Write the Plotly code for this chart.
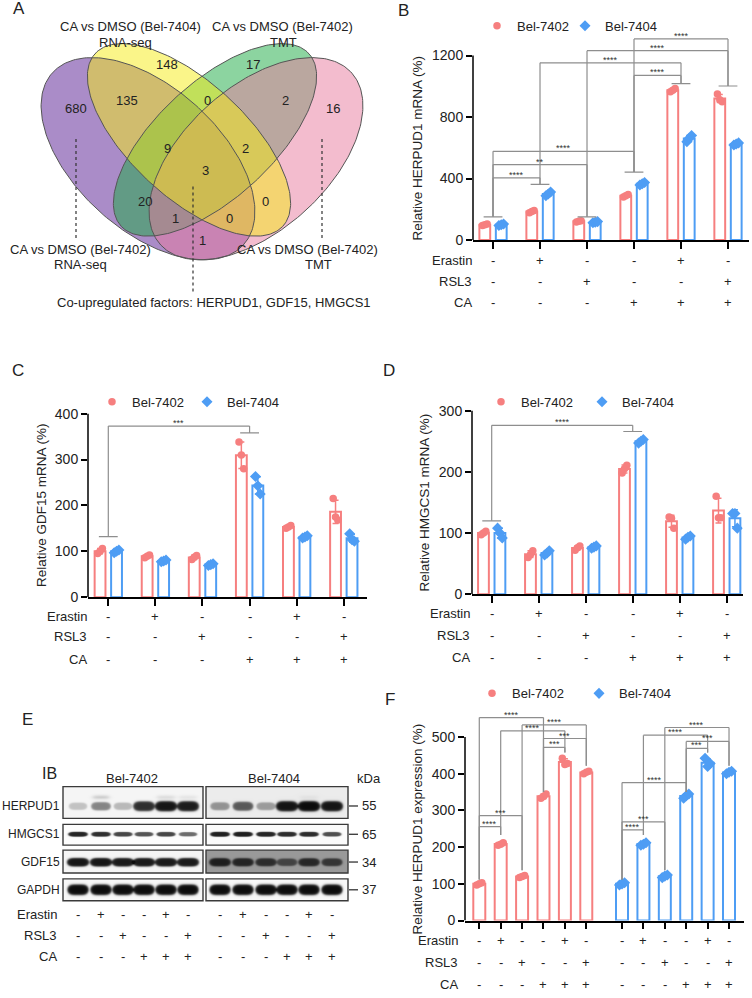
import numpy as np
import plotly.graph_objects as go

W, H = 752, 998
FONT = 'Liberation Sans, Arial, Helvetica, sans-serif'
RED = '#F67F7F'
BLUE = '#4E9DF4'
BRK = '#8E8E8E'
TXT = '#222222'

# ======================= DATA =======================
series = ['Bel-7402', 'Bel-7404']
treatments = ['Erastin', 'RSL3', 'CA']
erastin = ['-', '+', '-', '-', '+', '-']
rsl3 = ['-', '-', '+', '-', '-', '+']
ca = ['-', '-', '-', '+', '+', '+']

# Panel A (Venn) region counts  (1=7402 RNA-seq, 2=7404 RNA-seq, 3=7402 TMT, 4=7402 TMT)
venn_titles = ['CA vs DMSO (Bel-7402)', 'CA vs DMSO (Bel-7404)',
               'CA vs DMSO (Bel-7402)', 'CA vs DMSO (Bel-7402)']
venn_subtitles = ['RNA-seq', 'RNA-seq', 'TMT', 'TMT']
venn_regions = ['2', '3', '12', '23', '34', '1', '4', '123', '234', '1234', '13', '24', '134', '124', '14']
venn_counts = [148, 17, 135, 0, 2, 680, 16, 9, 2, 3, 20, 0, 1, 0, 1]
venn_note = 'Co-upregulated factors: HERPUD1, GDF15, HMGCS1'

# Panel B: HERPUD1 mRNA (%)
herpud1_mrna_7402 = [[95, 100, 105], [178, 185, 192], [118, 122, 126],
                     [280, 288, 296], [965, 975, 985], [950, 912, 900]]
herpud1_mrna_7404 = [[95, 100, 104], [288, 300, 312], [112, 116, 120],
                     [358, 366, 374], [640, 662, 680], [618, 625, 632]]
herpud1_mrna_ticks = [0, 400, 800, 1200]
herpud1_mrna_caps = [151, 362, 151, 442, 1017, 1002]
herpud1_mrna_sig = [(0, 1, 405, '****'), (0, 2, 491, '**'), (0, 3, 577, '****'),
                    (3, 4, 1071, '****'), (1, 4, 1153, '****'), (2, 5, 1232, '****'),
                    (3, 5, 1308, '****')]

# Panel C: GDF15 mRNA (%)
gdf15_mrna_7402 = [[95, 100, 106], [86, 89, 92], [82, 87, 91],
                   [338, 310, 280], [150, 153, 156], [215, 175, 168]]
gdf15_mrna_7404 = [[97, 100, 103], [77, 79, 81], [69, 71, 73],
                   [263, 243, 225], [129, 131, 134], [138, 125, 122]]
gdf15_mrna_ticks = [0, 100, 200, 300, 400]
gdf15_mrna_caps = {0: 132, 3: 358}
gdf15_mrna_sig = [(0, 3, 373, '***')]

# Panel D: HMGCS1 mRNA (%)
hmgcs1_mrna_7402 = [[97, 100, 103], [60, 65, 71], [72, 76, 79],
                    [198, 205, 211], [126, 124, 108], [160, 125, 125]]
hmgcs1_mrna_7404 = [[108, 100, 92], [64, 67, 71], [75, 77, 79],
                    [247, 250, 253], [90, 93, 95], [132, 132, 108]]
hmgcs1_mrna_ticks = [0, 100, 200, 300]
hmgcs1_mrna_caps = {0: 120, 3: 266}
hmgcs1_mrna_sig = [(0, 3, 276, '****')]

# Panel E: western blot band intensities (0-1)
blot_proteins = ['HERPUD1', 'HMGCS1', 'GDF15', 'GAPDH']
blot_kda = ['55', '65', '34', '37']
blot_7402 = [[0.22, 0.48, 0.26, 0.86, 0.96, 0.93],
             [0.90, 0.86, 0.76, 0.70, 0.76, 0.60],
             [0.96, 0.96, 0.94, 0.94, 0.94, 0.94],
             [1.00, 1.00, 1.00, 1.00, 1.00, 1.00]]
blot_7404 = [[0.40, 0.66, 0.36, 0.97, 1.00, 0.96],
             [0.92, 0.93, 0.90, 0.87, 0.87, 0.72],
             [0.88, 0.84, 0.78, 0.62, 0.82, 0.72],
             [1.00, 1.00, 1.00, 1.00, 1.00, 1.00]]
blot_bg_7402 = [0.04, 0.01, 0.04, 0.03]
blot_bg_7404 = [0.08, 0.02, 0.42, 0.03]
herpud1_upper_7402 = [0.0, 0.20, 0.0, 0.0, 0.12, 0.08]
herpud1_upper_7404 = [0.0, 0.0, 0.0, 0.0, 0.05, 0.0]

# Panel F: HERPUD1 protein expression (%)
herpud1_prot_7402 = [[97, 100, 103], [205, 208, 212], [117, 120, 123],
                     [333, 338, 345], [442, 425, 428], [400, 404, 407]]
herpud1_prot_7404 = [[97, 100, 103], [205, 208, 212], [117, 121, 124],
                     [333, 340, 345], [442, 420, 428], [400, 404, 407]]
herpud1_prot_ticks = [0, 100, 200, 300, 400, 500]
herpud1_prot_legs = [112, 233, 137, 350, 458, 422]
herpud1_prot_sig_7402 = [(0, 1, 256, '****'), (0, 2, 286, '***'), (0, 3, 553, '****'),
                         (2, 5, 533, '****'), (1, 4, 517, '****'), (3, 5, 496, '***'),
                         (3, 4, 472, '***')]
herpud1_prot_sig_7404 = [(0, 1, 247, '****'), (0, 2, 269, '***'), (0, 3, 376, '****'),
                         (1, 4, 505, '****'), (2, 5, 526, '****'), (3, 5, 488, '***'),
                         (3, 4, 469, '***')]

# ======================= HELPERS =======================
def px2x(p):
    return p / W


def px2y(p):
    return 1 - p / H


fig = go.Figure()
shapes = []
annotations = []
layout = {}


def add_line(xref, yref, x0, y0, x1, y1, color=BRK, width=1.2, dash=None):
    ln = dict(color=color, width=width)
    if dash:
        ln['dash'] = dash
    shapes.append(dict(type='line', xref=xref, yref=yref, x0=x0, y0=y0,
                       x1=x1, y1=y1, line=ln, layer='above'))


def text(x, y, s, size=13, xref='x5', yref='y5', xanchor='center', yanchor='middle',
         color=TXT, angle=0, yshift=0):
    annotations.append(dict(x=x, y=y, xref=xref, yref=yref, text=s, showarrow=False,
                            xanchor=xanchor, yanchor=yanchor, textangle=angle,
                            yshift=yshift, font=dict(size=size, color=color, family=FONT)))


def ax_names(n):
    s = '' if n == 1 else str(n)
    return 'x' + s, 'y' + s, 'xaxis' + s, 'yaxis' + s


def setup_axes(n, xdom_px, zero_px, k, xrange, ymax, yticks, xticks):
    xa, ya, xl, yl = ax_names(n)
    top_px = zero_px - ymax * k
    layout[xl] = dict(domain=[px2x(xdom_px[0]), px2x(xdom_px[1])], range=xrange,
                      anchor=ya, showgrid=False, zeroline=False, showline=True,
                      linecolor='black', linewidth=1.5, ticks='outside', ticklen=7,
                      tickwidth=1.5, tickcolor='black', showticklabels=False,
                      tickvals=list(xticks), fixedrange=True)
    layout[yl] = dict(domain=[px2y(zero_px), px2y(top_px)], range=[0, ymax],
                      anchor=xa, showgrid=False, zeroline=False, showline=False,
                      ticks='outside', ticklen=6, tickwidth=1.5, tickcolor='black',
                      tickvals=yticks, tickfont=dict(size=14, color=TXT, family=FONT),
                      fixedrange=True)
    add_line(f'{xa} domain', ya, 0, 0, 0, yticks[-1], color='black', width=1.5)
    return xa, ya


def bars(xa, ya, reps_r, reps_b, xr, xb, legend_id, width, jit, msize=7.5, spacer=False):
    for reps, xs, color, sym, name in [(reps_r, xr, RED, 'circle', series[0]),
                                        (reps_b, xb, BLUE, 'diamond', series[1])]:
        arr = np.array(reps, dtype=float)
        means = arr.mean(axis=1)
        sds = arr.std(axis=1, ddof=1)
        fig.add_trace(go.Bar(x=list(xs), y=means, width=width, xaxis=xa, yaxis=ya,
                             marker=dict(color='white', line=dict(color=color, width=2)),
                             error_y=dict(type='data', array=sds, color=color, thickness=1.5, width=3),
                             showlegend=False, hoverinfo='skip'))
        xpts = np.repeat(np.array(xs, dtype=float), arr.shape[1]) + np.tile(jit, len(xs))
        fig.add_trace(go.Scatter(x=xpts, y=arr.ravel(), mode='markers', xaxis=xa, yaxis=ya,
                                 marker=dict(color=color, size=msize if sym == 'circle' else msize + 1,
                                             symbol=sym, line=dict(width=0)),
                                 name=name, legend=legend_id, showlegend=True, hoverinfo='skip'))
    if spacer:
        # invisible spacer entry so that the last legend label is not clipped
        fig.add_trace(go.Scatter(x=[None], y=[None], mode='markers', xaxis=xa, yaxis=ya,
                                 marker=dict(opacity=0, size=1, color='rgba(0,0,0,0)',
                                             line=dict(width=0)),
                                 name=' ', legend=legend_id, showlegend=True, hoverinfo='skip'))


def sig(xa, ya, xs, sig_list, leg_base):
    for i, j, lvl, lab in sig_list:
        add_line(xa, ya, xs[i], lvl, xs[j], lvl)
        add_line(xa, ya, xs[i], leg_base[i], xs[i], lvl)
        add_line(xa, ya, xs[j], leg_base[j], xs[j], lvl)
        text((xs[i] + xs[j]) / 2, lvl, lab, size=9, xref=xa, yref=ya, yanchor='bottom',
             color='#333333', yshift=-4)


def caps(xa, ya, xs, cap_vals, half=0.2):
    for g, v in cap_vals.items():
        add_line(xa, ya, xs[g] - half, v, xs[g] + half, v)


def treat_rows(xref, xs, label_right_px, ys_px, rows):
    for name, ypx, signs in zip(treatments, ys_px, rows):
        text(px2x(label_right_px), px2y(ypx), name, xref='paper', yref='paper', xanchor='right')
        for x, s in zip(xs, signs):
            text(float(x), px2y(ypx), s, xref=xref, yref='paper')


def legend_cfg(marker_px, y_px, entry):
    return dict(orientation='h', x=px2x(marker_px - 20), y=px2y(y_px), xanchor='left',
                yanchor='middle', font=dict(size=13, color=TXT, family=FONT),
                bgcolor='rgba(0,0,0,0)', borderwidth=0, entrywidthmode='pixels',
                entrywidth=entry, itemclick=False, itemdoubleclick=False, tracegroupgap=0)


# ======================= OVERLAY (pixel) AXES =======================
layout['xaxis5'] = dict(domain=[0, 1], range=[0, W], anchor='y5', visible=False, fixedrange=True)
layout['yaxis5'] = dict(domain=[0, 1], range=[H, 0], anchor='x5', visible=False, fixedrange=True)

# ======================= PANEL A: Venn =======================
def ellipse(cx, cy, a, b, phi_deg, n=240):
    t = np.linspace(0, 2 * np.pi, n)
    ph = np.deg2rad(phi_deg)
    x = cx + a * np.cos(t) * np.cos(ph) - b * np.sin(t) * np.sin(ph)
    y = cy + a * np.cos(t) * np.sin(ph) + b * np.sin(t) * np.cos(ph)
    return x, y

venn_geom = [  # cx, cy, a, b, angle (pixel space), fill
    (148, 160, 129, 72, 42.4, 'rgba(85,25,145,0.5)'),
    (215, 141, 128, 58, 137.0, 'rgba(25,170,65,0.5)'),
    (256, 160, 129, 72, 137.6, 'rgba(232,122,157,0.5)'),
    (189, 141, 128, 58, 43.0, 'rgba(245,235,20,0.5)'),
]
for cx, cy, a, b, ph, fc in venn_geom:
    ex, ey = ellipse(cx, cy, a, b, ph)
    fig.add_trace(go.Scatter(x=ex, y=ey, mode='lines', fill='toself', fillcolor=fc,
                             line=dict(width=0), xaxis='x5', yaxis='y5',
                             showlegend=False, hoverinfo='skip'))
for cx, cy, a, b, ph, fc in venn_geom:
    ex, ey = ellipse(cx, cy, a, b, ph)
    fig.add_trace(go.Scatter(x=ex, y=ey, mode='lines', line=dict(width=1, color='#555555'),
                             xaxis='x5', yaxis='y5', showlegend=False, hoverinfo='skip'))

venn_pos = {'2': (167, 65), '3': (253, 65), '12': (127, 101), '23': (207, 101), '34': (285, 101),
            '1': (76, 109), '4': (333, 109), '123': (167, 150), '234': (245, 150),
            '1234': (205, 172), '13': (145, 203), '24': (265, 203), '134': (175, 220),
            '124': (229, 220), '14': (202, 242)}
for r, c in zip(venn_regions, venn_counts):
    text(venn_pos[r][0], venn_pos[r][1], str(c), size=13)

text(130, 27, venn_titles[1])
text(125, 43, venn_subtitles[1])
text(282, 27, venn_titles[2])
text(283, 43, venn_subtitles[2])
text(80, 252, venn_titles[0])
text(80, 267, venn_subtitles[0])
text(307, 252, venn_titles[3])
text(318, 267, venn_subtitles[3])
text(214, 305, venn_note)
add_line('x5', 'y5', 76, 140, 76, 242, color='#333333', width=1.2, dash='dot')
add_line('x5', 'y5', 322, 140, 322, 242, color='#333333', width=1.2, dash='dot')
add_line('x5', 'y5', 193, 188, 193, 295, color='#333333', width=1.2, dash='dot')

# ======================= PANEL B =======================
g6 = np.arange(6, dtype=float)
xa, ya = setup_axes(1, (473, 749), 242, 0.155, [-0.426, 5.447], 1400, herpud1_mrna_ticks, g6)
bars(xa, ya, herpud1_mrna_7402, herpud1_mrna_7404, g6 - 0.175, g6 + 0.175, 'legend',
     0.23, [-0.05, 0.0, 0.05], spacer=True)
caps(xa, ya, g6, {i: v for i, v in enumerate(herpud1_mrna_caps)})
sig(xa, ya, g6, herpud1_mrna_sig, herpud1_mrna_caps)
treat_rows(xa, g6, 474, [263, 284, 305], [erastin, rsl3, ca])
text(px2x(417.7), px2y(149), 'Relative HERPUD1 mRNA (%)', xref='paper', yref='paper', angle=-90,
     size=13.5)
layout['legend'] = legend_cfg(497, 26, 43)

# ======================= PANEL C =======================
xa, ya = setup_axes(2, (88, 367), 602, 0.4625, [-0.431, 5.493], 430, gdf15_mrna_ticks, g6)
bars(xa, ya, gdf15_mrna_7402, gdf15_mrna_7404, g6 - 0.175, g6 + 0.175, 'legend2',
     0.23, [-0.05, 0.0, 0.05])
caps(xa, ya, g6, gdf15_mrna_caps)
sig(xa, ya, g6, gdf15_mrna_sig, gdf15_mrna_caps)
treat_rows(xa, g6, 89, [621, 642, 665], [erastin, rsl3, ca])
text(px2x(41.7), px2y(509.5), 'Relative GDF15 mRNA (%)', xref='paper', yref='paper', angle=-90,
     size=13.5)
layout['legend2'] = legend_cfg(112, 405, 50)

# ======================= PANEL D =======================
xa, ya = setup_axes(3, (472, 742.7), 599, 0.61667, [-0.419, 5.340], 320, hmgcs1_mrna_ticks, g6)
bars(xa, ya, hmgcs1_mrna_7402, hmgcs1_mrna_7404, g6 - 0.175, g6 + 0.175, 'legend3',
     0.23, [-0.05, 0.0, 0.05])
caps(xa, ya, g6, hmgcs1_mrna_caps)
sig(xa, ya, g6, hmgcs1_mrna_sig, hmgcs1_mrna_caps)
treat_rows(xa, g6, 472, [618, 641, 663], [erastin, rsl3, ca])
text(px2x(424), px2y(506.5), 'Relative HMGCS1 mRNA (%)', xref='paper', yref='paper', angle=-90,
     size=13.5)
layout['legend3'] = legend_cfg(501, 405, 56)

# ======================= PANEL F =======================
fr = np.arange(6, dtype=float)
fb = fr + 6.67
xa, ya = setup_axes(4, (465, 744), 928, 0.37, [-0.668, 12.37], 590, herpud1_prot_ticks,
                    np.concatenate([fr, fb]))
bars(xa, ya, herpud1_prot_7402, herpud1_prot_7404, fr, fb, 'legend4', 0.56, [-0.12, 0.0, 0.12])
sig(xa, ya, fr, herpud1_prot_sig_7402, herpud1_prot_legs)
sig(xa, ya, fb, herpud1_prot_sig_7404, herpud1_prot_legs)
treat_rows(xa, np.concatenate([fr, fb]), 460, [948, 970, 992],
           [erastin * 2, rsl3 * 2, ca * 2])
text(px2x(417.7), px2y(835.5), 'Relative HERPUD1 expression (%)', xref='paper', yref='paper',
     angle=-90, size=13.5)
layout['legend4'] = legend_cfg(492, 699, 62)

# ======================= PANEL E: western blot =======================
box_x = [(63, 203), (206, 348)]
lanes = [[78, 101, 123, 144, 166, 188], [220, 243, 266, 287, 309, 332]]
row_box_y = [(793, 825), (831, 852), (857, 880), (886, 908)]
band_y = [812.5, 841, 869, 897]
band_hh = [4.5, 2.2, 3.8, 4.6]
band_hw = [10, 9, 10, 9.5]
for side, (amps_all, bgs, upper) in enumerate([(blot_7402, blot_bg_7402, herpud1_upper_7402),
                                                (blot_7404, blot_bg_7404, herpud1_upper_7404)]):
    x0, x1 = box_x[side]
    xs = np.arange(x0 + 0.5, x1, 1.0)
    for r in range(4):
        y0, y1 = row_box_y[r]
        ys = np.arange(y0 + 0.25, y1, 0.5)
        XX, YY = np.meshgrid(xs, ys)
        acc = np.zeros_like(XX)
        for li, lx in enumerate(lanes[side]):
            amp = amps_all[r][li]
            hw = band_hw[r] * (0.85 + 0.25 * amp)
            hh = band_hh[r] * (0.7 + 0.45 * amp)
            dxn = np.abs(XX - lx) / hw
            dyn = np.abs(YY - band_y[r]) / hh
            rr = (dxn ** 4 + dyn ** 2) ** 0.5
            prof = 1 / (1 + np.exp((rr - 1.0) / 0.12))
            acc += amp * prof
            if r == 0 and upper[li] > 0:
                sy2 = 1 / (1 + np.exp((np.abs(YY - (band_y[r] - 9)) - 1.5) / 0.8))
                sx2 = 1 / (1 + np.exp((np.abs(XX - lx) - hw * 0.8) / 1.5))
                acc += upper[li] * sx2 * sy2
        Z = bgs[r] + (1 - bgs[r]) * np.clip(acc, 0, 1)
        fig.add_trace(go.Heatmap(x=xs, y=ys, z=Z, zmin=0, zmax=1, showscale=False,
                                 colorscale=[[0, '#ffffff'], [1, '#0c0c0c']],
                                 xaxis='x5', yaxis='y5', hoverinfo='skip'))
        shapes.append(dict(type='rect', xref='x5', yref='y5', x0=x0, x1=x1, y0=y0, y1=y1,
                           line=dict(color='#3a3a3a', width=1.4), fillcolor='rgba(0,0,0,0)',
                           layer='above'))

for r in range(4):
    text(61.5, band_y[r], blot_proteins[r], xanchor='right', size=12)
    add_line('x5', 'y5', 349, band_y[r], 358, band_y[r], color='#222222', width=1.2)
    text(360, band_y[r], blot_kda[r], xanchor='left')
text(49, 780, 'IB', size=16)
text(132, 785, series[0])
text(274, 785, series[1])
text(355, 785, 'kDa', xanchor='left')
for name, ypx, signs in zip(treatments, [922, 943, 964], [erastin, rsl3, ca]):
    text(59, ypx, name, xanchor='right')
    for side in range(2):
        for lx, s in zip(lanes[side], signs):
            text(lx, ypx, s)

# ======================= Panel letters =======================
for lab, (lx, ly) in zip('ABCDEF', [(19, 9), (403, 11), (18, 373), (389, 373), (27, 725), (390, 705)]):
    text(lx, ly, lab, size=17)

layout.update(dict(width=W, height=H, margin=dict(l=0, r=0, t=0, b=0),
                   paper_bgcolor='white', plot_bgcolor='rgba(0,0,0,0)',
                   barmode='overlay', showlegend=True,
                   font=dict(family=FONT, size=13, color=TXT),
                   shapes=shapes, annotations=annotations))
fig.update_layout(**layout)
fig.write_html('out.html', config={'displayModeBar': False},
               post_script="document.body.style.margin='0';document.body.style.padding='0';")
